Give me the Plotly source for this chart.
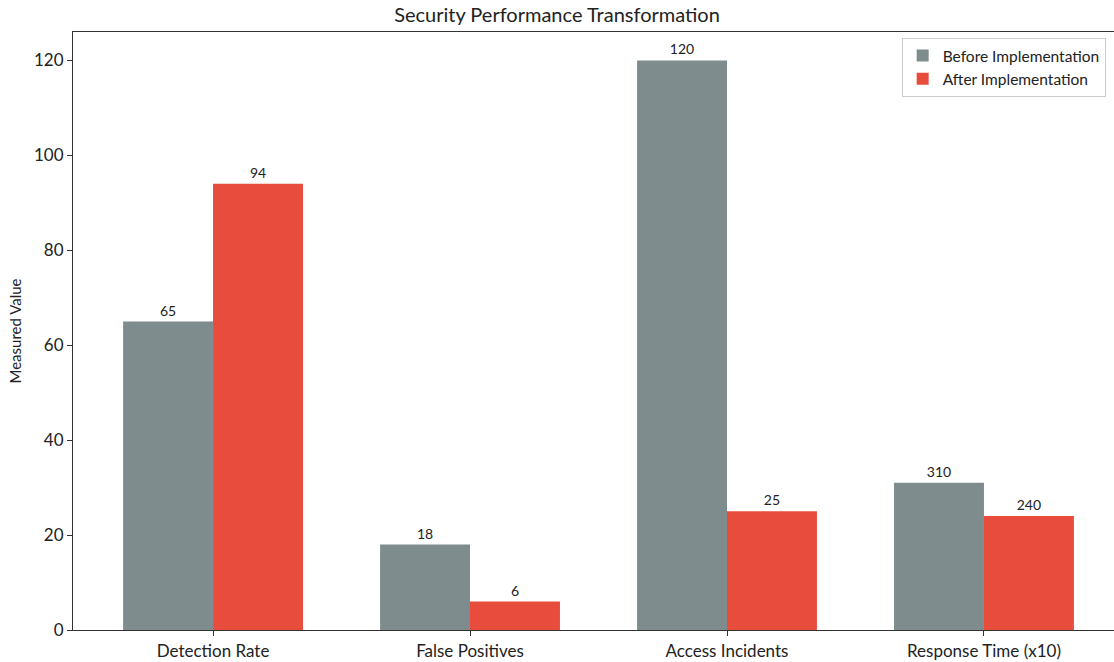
import plotly.graph_objects as go

categories = ["Detection Rate", "False Positives", "Access Incidents", "Response Time (x10)"]
before_values = [65, 18, 120, 31]
after_values = [94, 6, 25, 24]
before_labels = ["65", "18", "120", "310"]
after_labels = ["94", "6", "25", "240"]

FONT = "Lato, Roboto, sans-serif"

fig = go.Figure()
fig.add_trace(go.Bar(
    x=categories, y=before_values, name="Before Implementation",
    marker=dict(color="#7f8c8d", line=dict(width=0)),
    text=before_labels, textposition="outside", cliponaxis=False,
    textfont=dict(size=14, color="#222", family=FONT),
))
fig.add_trace(go.Bar(
    x=categories, y=after_values, name="After Implementation",
    marker=dict(color="#e74c3c", line=dict(width=0)),
    text=after_labels, textposition="outside", cliponaxis=False,
    textfont=dict(size=14, color="#222", family=FONT),
))

fig.update_layout(
    width=1114, height=662,
    margin=dict(l=73, r=0, t=32, b=32),
    paper_bgcolor="white", plot_bgcolor="white",
    barmode="group", bargap=0.3, bargroupgap=0,
    font=dict(family=FONT, color="#222"),
    title=dict(text="Security Performance Transformation", x=0.5, xanchor="center",
               y=0.988, yanchor="top", font=dict(size=20, color="#222", family=FONT)),
    legend=dict(x=0.992, y=0.99, xanchor="right", yanchor="top",
                bordercolor="#cccccc", borderwidth=1, bgcolor="rgba(255,255,255,0.8)",
                font=dict(size=15.5, family=FONT), traceorder="normal"),
)
fig.update_xaxes(
    range=[-0.545, 3.506], showline=True, linecolor="#333", linewidth=1.2, mirror=True,
    ticks="outside", ticklen=5, tickcolor="#333", tickfont=dict(size=17, family=FONT),
    showgrid=False,
)
fig.update_yaxes(
    range=[0, 126], showline=True, linecolor="#333", linewidth=1.2, mirror=False,
    ticks="outside", ticklen=5, tickcolor="#333", tickfont=dict(size=17, family=FONT),
    tickvals=[0, 20, 40, 60, 80, 100, 120], showgrid=False, zeroline=False,
    title=dict(text="Measured Value", font=dict(size=15, family=FONT), standoff=8),
)

fig.write_html("out.html")
